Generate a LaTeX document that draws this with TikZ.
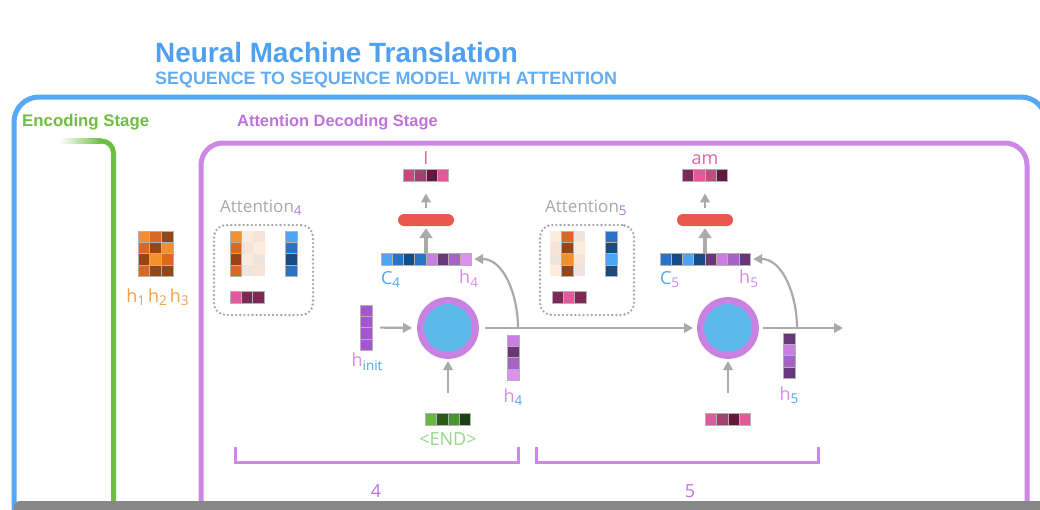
\documentclass[tikz,border=0pt]{standalone}
\usepackage{fontspec}
\setmainfont{Open Sans}
\newfontfamily\headfont{Liberation Sans}
\usetikzlibrary{arrows.meta,positioning,calc}

\definecolor{titleblue}{RGB}{80,160,240}
\definecolor{subblue}{RGB}{100,172,242}
\definecolor{boxblue}{RGB}{85,168,245}
\definecolor{encgreen}{RGB}{110,190,65}
\definecolor{decpurple}{RGB}{205,135,228}
\definecolor{txtpurple}{RGB}{190,115,220}
\definecolor{hpurple}{RGB}{212,140,236}
\definecolor{cblue}{RGB}{80,165,240}
\definecolor{arrowgrey}{RGB}{170,170,170}
\definecolor{greytext}{RGB}{168,168,168}
\definecolor{barred}{RGB}{232,88,78}
\definecolor{cellblue}{RGB}{90,185,232}
\definecolor{ringpurple}{RGB}{200,130,225}
\definecolor{hOrange}{RGB}{240,160,70}
\definecolor{endgreen}{RGB}{150,215,135}
\definecolor{wordpink}{RGB}{222,100,160}
\definecolor{bargrey}{RGB}{135,135,135}
% cell colours
\definecolor{bL}{RGB}{75,165,240}
\definecolor{bM}{RGB}{40,115,195}
\definecolor{bD}{RGB}{25,75,130}
\definecolor{pL}{RGB}{200,125,225}
\definecolor{pD}{RGB}{105,55,120}
\definecolor{pM}{RGB}{165,100,195}
\definecolor{pX}{RGB}{220,145,240}
\definecolor{hP}{RGB}{165,85,205}
\definecolor{oL}{RGB}{240,145,45}
\definecolor{oM}{RGB}{215,105,35}
\definecolor{oB}{RGB}{150,70,20}
\definecolor{fA}{RGB}{251,236,222}
\definecolor{fB}{RGB}{245,228,215}
\definecolor{fC}{RGB}{240,229,222}
\definecolor{kP}{RGB}{225,90,155}
\definecolor{kA}{RGB}{160,65,112}
\definecolor{kR}{RGB}{195,75,130}
\definecolor{kM}{RGB}{125,40,85}
\definecolor{kD}{RGB}{100,25,60}
\definecolor{gL}{RGB}{105,185,60}
\definecolor{gD}{RGB}{40,90,30}
\definecolor{gM}{RGB}{70,150,45}
\definecolor{gX}{RGB}{25,65,20}

\newcommand{\cellw}{11.3}
\newcommand{\cellt}{11.8}
% cells of a vector node, left to right / top to bottom
\newcommand{\hcells}[2]{%
  \foreach \cc [count=\idx from 0] in {#2}
    \draw[cell, fill=\cc] ($(#1.north west)+(\idx*\cellw,0)$) rectangle ++(\cellw,\cellt);}
\newcommand{\vcells}[2]{%
  \foreach \cc [count=\idx from 0] in {#2}
    \draw[cell, fill=\cc] ($(#1.north west)+(0,\idx*\cellw)$) rectangle ++(\cellt,\cellw);}
% 3x4 grid of cells, one list per row; borders only on the columns in #2
\newcommand{\gcells}[3]{%
  \foreach \row [count=\ri from 0] in {#3}
    \foreach \cc [count=\ci from 0] in \row
      \fill[\cc] ($(#1.north west)+(\ci*11.7,\ri*11.3)$) rectangle ++(11.7,11.3);
  \foreach \ci in {#2}
    \foreach \ri in {0,...,3}
      \draw[cell] ($(#1.north west)+(\ci*11.7,\ri*11.3)$) rectangle ++(11.7,11.3);}
\newcommand{\subs}[2]{\raisebox{-0.35ex}{\fontsize{13.5}{13.5}\selectfont\color{#1}#2}}

\begin{document}
\begin{tikzpicture}[x=1pt, y=-1pt, >=Stealth,
  cell/.style={draw=black!30, line width=0.5},
  hvec/.style={inner sep=0, outer sep=0, minimum width=#1*\cellw, minimum height=\cellt},
  vvec/.style={inner sep=0, outer sep=0, minimum width=\cellt, minimum height=#1*\cellw},
  grid/.style={inner sep=0, outer sep=0, minimum width=35.1, minimum height=45.2},
  lbl/.style={inner sep=0, font=\fontsize{18}{18}\selectfont},
  head/.style={inner sep=0, anchor=base west, font=\headfont\bfseries\fontsize{#1}{#1}\selectfont},
  rnn/.style={circle, minimum size=55, inner sep=0, line width=7, draw=ringpurple, fill=cellblue},
  ffnn/.style={rounded corners=6, fill=barred, minimum width=56, minimum height=12, inner sep=0},
  flow/.style={draw=arrowgrey, line width=2.2, -{Triangle[length=9,width=9.5]}},
  bigflow/.style={draw=arrowgrey, line width=4.5, -{Triangle[length=10,width=13]}},
  attbox/.style={draw=gray!70, line width=2.6, dash pattern=on 0pt off 4.1pt, line cap=round,
    rounded corners=12, inner sep=0},
  bracket/.style={draw=decpurple, line width=3}]

\useasboundingbox (0,0) rectangle (1040,509);
\clip (0,0) rectangle (1040,509);

% Titles
\node[head=27.9, text=titleblue] (title) at (155,62) {Neural Machine Translation};
\node[head=17.9, text=subblue] (subtitle) at (155,84) {SEQUENCE TO SEQUENCE MODEL WITH ATTENTION};

% Frames
\draw[boxblue, line width=5, rounded corners=25] (14,560) -- (14,97) -- (1046,97) -- (1046,560);
\node[head=16.8, text=encgreen] (enclabel) at (22,126) {Encoding Stage};
\shade[left color=white, right color=encgreen] (60,138.5) rectangle (101,143.5);
\draw[encgreen, line width=5, rounded corners=12] (100,141) -- (113.5,141) -- (113.5,560);
\node[head=16.4, text=txtpurple] (declabel) at (237,126) {Attention Decoding Stage};
\draw[decpurple, line width=5, rounded corners=22] (201,560) -- (201,143) -- (1027,143) -- (1027,560);

% Encoder hidden states
\node[grid] (enc) at (155.5,253.5) {};
\gcells{enc}{0,1,2}{{oL,oM,oB},{oM,oB,oL},{oB,oL,oM},{oM,oB,oB}}
\node[lbl, text=hOrange, anchor=base] (enclbl) at (157.5,302) {h\subs{hOrange}{1}\,h\subs{hOrange}{2}\,h\subs{hOrange}{3}};

% Attention at step 4
\node[attbox, minimum width=99, minimum height=90] (att4) at (263.5,270) {};
\node[lbl, text=greytext, anchor=base west, font=\fontsize{17}{17}\selectfont] (att4lbl) at (220,212) {Attention\subs{txtpurple}{4}};
\node[grid] (a4m) at (247.5,253.5) {};
\gcells{a4m}{0}{{oL,fA,fB},{oM,fB,fA},{oB,fA,fC},{oM,fC,fB}}
\node[vvec=4] (a4c) at (291.5,253.5) {};
\vcells{a4c}{bL,bM,bD,bM}
\node[hvec=3] (a4w) at (247,297.5) {};
\hcells{a4w}{kP,kM,kM}

% Attention at step 5
\node[attbox, minimum width=94, minimum height=90] (att5) at (587,270) {};
\node[lbl, text=greytext, anchor=base west, font=\fontsize{17}{17}\selectfont] (att5lbl) at (545,212) {Attention\subs{txtpurple}{5}};
\node[grid] (a5m) at (567.5,253.5) {};
\gcells{a5m}{1}{{fA,oM,fC},{fB,oB,fA},{fC,oL,fB},{fA,oB,fC}}
\node[vvec=4] (a5c) at (611.5,253.5) {};
\vcells{a5c}{bM,bD,bL,bD}
\node[hvec=3] (a5w) at (569,297.5) {};
\hcells{a5w}{kM,kP,kM}

% Decoder step 4
\node[rnn] (dec4) at (448,328) {};
\node[vvec=4] (hinit) at (366,327.5) {};
\vcells{hinit}{hP,hP,hP,hP}
\node[lbl, text=hpurple, anchor=north] (hinitlbl) at (367,353) {h\subs{cblue}{init}};
\node[hvec=4] (end4) at (448,419.5) {};
\hcells{end4}{gL,gD,gM,gX}
\node[lbl, text=endgreen, anchor=north] (endlbl) at ([yshift=-7pt]end4.south) {<END>};
\node[vvec=4] (h4) at (513,357.6) {};
\vcells{h4}{pL,pD,pM,pX}
\node[lbl, text=hpurple, anchor=north] (h4lbl) at ([yshift=-8pt]h4.south) {h\subs{cblue}{4}};
\node[hvec=8] (c4) at (426,259) {};
\hcells{c4}{bL,bM,bD,bM,pL,pD,pM,pX}
\node[lbl, text=cblue, anchor=north west] (c4lbl) at ([yshift=-6pt]c4.south west) {C\subs{cblue}{4}};
\node[lbl, text=hpurple, anchor=north east] (h4top) at ([xshift=7pt, yshift=-5pt]c4.south east) {h\subs{hpurple}{4}};
\node[ffnn] (ff4) at (426,220) {};
\node[hvec=4] (y4) at (426,175.5) {};
\hcells{y4}{kR,kA,kD,kP}
\node[lbl, text=wordpink, anchor=south] (word4) at ([yshift=5pt]y4.north) {I};
\coordinate (split4) at (518,328);

% Decoder step 5
\node[rnn] (dec5) at (728,328) {};
\node[hvec=4] (in5) at (728,419.5) {};
\hcells{in5}{kP,kA,kD,kP}
\node[vvec=4] (h5) at (789,355.6) {};
\vcells{h5}{pD,pL,pM,pD}
\node[lbl, text=hpurple, anchor=north] (h5lbl) at ([yshift=-8pt]h5.south) {h\subs{cblue}{5}};
\node[hvec=8] (c5) at (705,259) {};
\hcells{c5}{bM,bD,bL,bD,pD,pL,pM,pD}
\node[lbl, text=cblue, anchor=north west] (c5lbl) at ([yshift=-6pt]c5.south west) {C\subs{hpurple}{5}};
\node[lbl, text=hpurple, anchor=north east] (h5top) at ([xshift=8pt, yshift=-5pt]c5.south east) {h\subs{hpurple}{5}};
\node[ffnn] (ff5) at (705,220) {};
\node[hvec=4] (y5) at (705,175.5) {};
\hcells{y5}{kM,kP,kR,kD}
\node[lbl, text=wordpink, anchor=south] (word5) at ([yshift=5pt]y5.north) {am};
\coordinate (split5) at (797,328);
\coordinate (out5) at (843,328);

% Connectors
\draw[flow, shorten <=8, shorten >=5] (hinit.east) -- (dec4.west);
\draw[flow, shorten <=21, shorten >=2] (end4.north) -- (dec4.south);
\draw[flow, shorten <=6, shorten >=4] (dec4.east) -- (dec5.west);
\draw[flow, shorten >=3] (split4) to[out=90, in=0] (c4.east);
\draw[bigflow, shorten >=2] (c4.north) -- (ff4.south);
\draw[flow, shorten <=6, shorten >=12] (ff4.north) -- (y4.south);
\draw[flow, shorten <=21, shorten >=2] (in5.north) -- (dec5.south);
\draw[flow, shorten <=4] (dec5.east) -- (out5);
\draw[flow, shorten >=3] (split5) to[out=90, in=0] (c5.east);
\draw[bigflow, shorten >=2] (c5.north) -- (ff5.south);
\draw[flow, shorten <=6, shorten >=12] (ff5.north) -- (y5.south);

% Time steps
\draw[bracket] (235,447) |- (518,462) -- (518,447);
\draw[bracket] (536,447) |- (818,462) -- (818,447);
\node[lbl, text=txtpurple] (step4) at (376,491) {4};
\node[lbl, text=txtpurple] (step5) at (690,491) {5};

% Bottom bar
\fill[bargrey, rounded corners=6] (14,501) rectangle (1046,520);

\end{tikzpicture}
\end{document}
